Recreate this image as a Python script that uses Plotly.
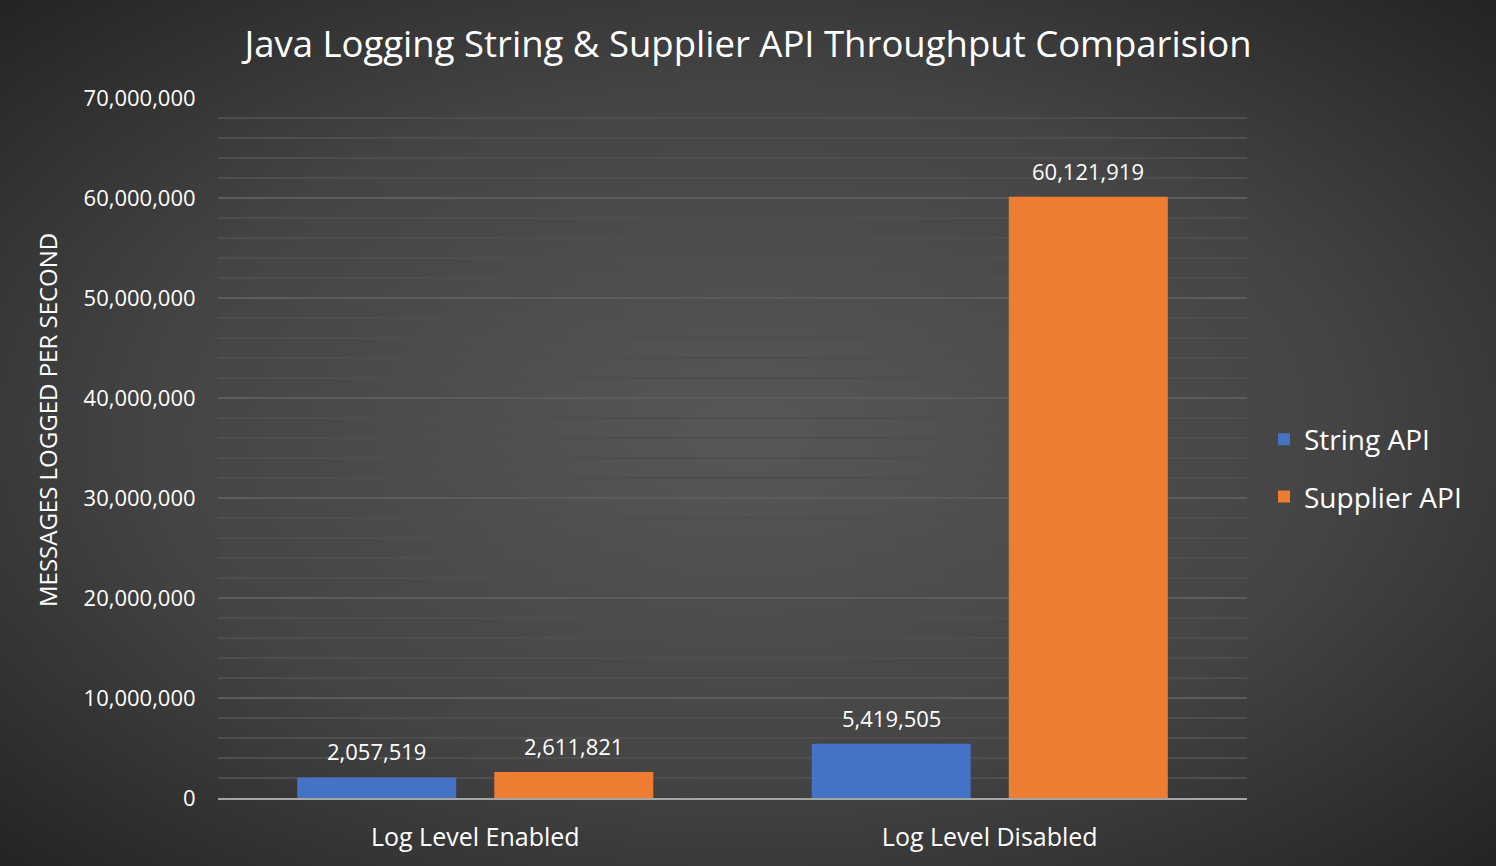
import plotly.graph_objects as go
import base64

categories = ["Log Level Enabled", "Log Level Disabled"]
string_api = [2057519, 5419505]
supplier_api = [2611821, 60121919]
series_names = ["String API", "Supplier API"]

W, H = 1496, 866
L, R, T, B = 218, 249, 98, 68
pw, ph = W - L - R, H - T - B

svg = f'''<svg xmlns="http://www.w3.org/2000/svg" width="{W}" height="{H}" viewBox="0 0 {W} {H}" preserveAspectRatio="none">
<defs><radialGradient id="g" cx="50%" cy="50%" r="72%" fx="50%" fy="50%">
<stop offset="0" stop-color="#575757"/><stop offset="0.55" stop-color="#444444"/><stop offset="1" stop-color="#222222"/>
</radialGradient></defs><rect width="{W}" height="{H}" fill="url(#g)"/></svg>'''
bg_src = "data:image/svg+xml;base64," + base64.b64encode(svg.encode()).decode()

font = "Open Sans"
colors = ["#4472C4", "#ED7D31"]
BARGAP, GROUPGAP = 0.234, 0.193

fig = go.Figure()
for i, (name, vals) in enumerate(zip(series_names, [string_api, supplier_api])):
    fig.add_trace(go.Bar(
        x=categories, y=vals, name=name, legendgroup=name,
        marker=dict(color=colors[i], line=dict(width=0)),
    ))

# data labels above each bar (positioned in data coords, shifted to the bar slot)
cat_px = pw / len(categories)
slot_px = cat_px * (1 - BARGAP) / 2
annotations = []
for i, vals in enumerate([string_api, supplier_api]):
    shift = (i - 0.5) * slot_px
    for c, v in zip(categories, vals):
        annotations.append(dict(
            x=c, y=v, xref="x", yref="y", text=f"{v:,}", showarrow=False,
            xshift=shift, yshift=9, yanchor="bottom", xanchor="center",
            font=dict(color="#ffffff", size=22, family=font),
        ))
annotations.append(dict(
    text="MESSAGES LOGGED PER SECOND", xref="paper", yref="paper",
    x=(47 - L) / pw, y=(798 - 420) / ph, xanchor="center", yanchor="middle",
    textangle=-90, showarrow=False, font=dict(size=24, color="#ffffff", family=font),
))

fig.update_layout(
    width=W, height=H,
    margin=dict(l=L, r=R, t=T, b=B, pad=0),
    paper_bgcolor="#3a3a3a", plot_bgcolor="rgba(0,0,0,0)",
    barmode="group", bargap=BARGAP, bargroupgap=GROUPGAP,
    title=dict(text="Java Logging String &amp; Supplier API Throughput Comparision",
               x=0.5, xanchor="center", y=1 - 44 / H, yanchor="middle",
               font=dict(color="#ffffff", size=36.5, family=font)),
    font=dict(family=font, color="#ffffff"),
    legend=dict(x=(1264 - L) / pw, xanchor="left", y=(798 - 468) / ph, yanchor="middle",
                font=dict(size=28, color="#ffffff", family=font),
                bgcolor="rgba(0,0,0,0)", traceorder="grouped", tracegroupgap=18),
    annotations=annotations,
    images=[dict(source=bg_src, xref="paper", yref="paper",
                 x=-L / pw, y=1 + T / ph, sizex=W / pw, sizey=H / ph,
                 xanchor="left", yanchor="top", sizing="stretch", layer="below")],
)
fig.update_xaxes(
    showgrid=False, showline=True, linecolor="#a6a6a6", linewidth=2,
    tickfont=dict(size=25, color="#ffffff", family=font),
    ticks="outside", ticklen=16, tickcolor="rgba(0,0,0,0)",
)
fig.update_yaxes(
    range=[0, 70000000], dtick=10000000, tickformat=",",
    showgrid=True, gridcolor="#5c5c5c", gridwidth=2,
    minor=dict(dtick=2000000, showgrid=True, gridcolor="#4e4e4e", gridwidth=2),
    zeroline=False, showline=False,
    tickfont=dict(size=22, color="#ffffff", family=font),
    ticks="outside", ticklen=17, tickcolor="rgba(0,0,0,0)",
)

fig.write_html("out.html")
